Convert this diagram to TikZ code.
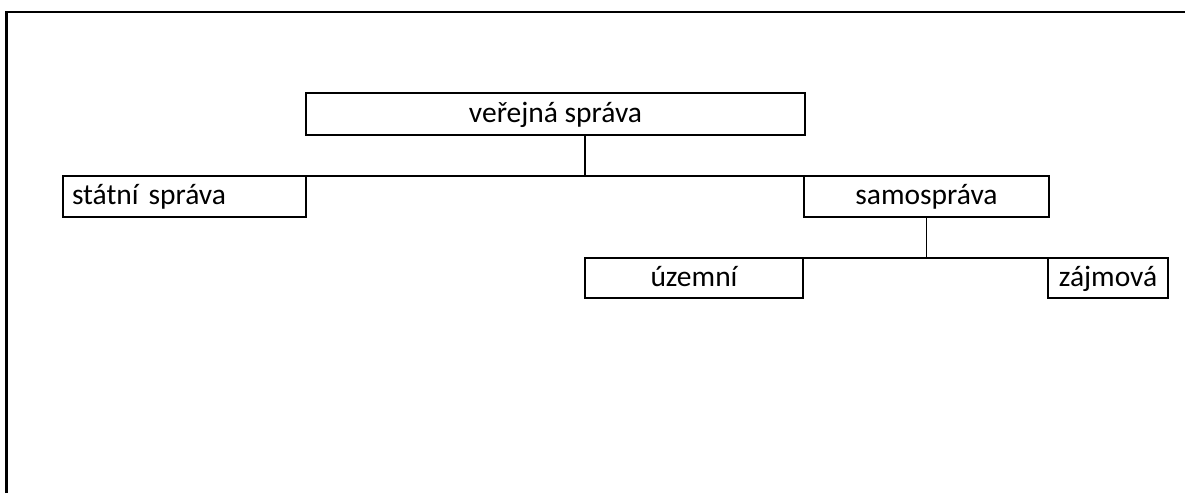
\documentclass[tikz,border=0pt]{standalone}
\usepackage{fontspec}
\setmainfont{Carlito}
\begin{document}
\begin{tikzpicture}[x=1pt,y=-1pt,
  box/.style={draw,line width=1.6pt,inner sep=0pt,outer sep=0pt,font=\fontsize{29.5}{34}\selectfont,text height=20pt,text depth=4pt},
  conn/.style={line width=1.6pt},
  frame/.style={line width=2.2pt}]
\useasboundingbox (0,0) rectangle (1185,493);
\draw[frame] (6.5,493) -- (6.5,12) -- (1185,12);
\node[box,minimum width=499pt,minimum height=42pt] (top) at (555.5,114) {veřejná správa};
\node[box,minimum width=243pt,minimum height=41pt,text width=225pt,inner xsep=9pt,align=left] (statni) at (184.5,196.5) {státní správa};
\node[box,minimum width=245pt,minimum height=41pt] (samo) at (926.5,196.5) {samospráva};
\node[box,minimum width=218pt,minimum height=40pt] (uzem) at (694,278) {územní};
\node[box,minimum width=120pt,minimum height=40pt] (zajm) at (1108,278) {zájmová};
\coordinate (j1) at (585,176);
\draw[conn] (top.south -| j1) -- (j1);
\draw[conn] (statni.north) -- (samo.north);
\draw[conn] (samo.south) -- (samo.south |- uzem.north);
\draw[conn] (uzem.north) -- (zajm.north);
\end{tikzpicture}
\end{document}
